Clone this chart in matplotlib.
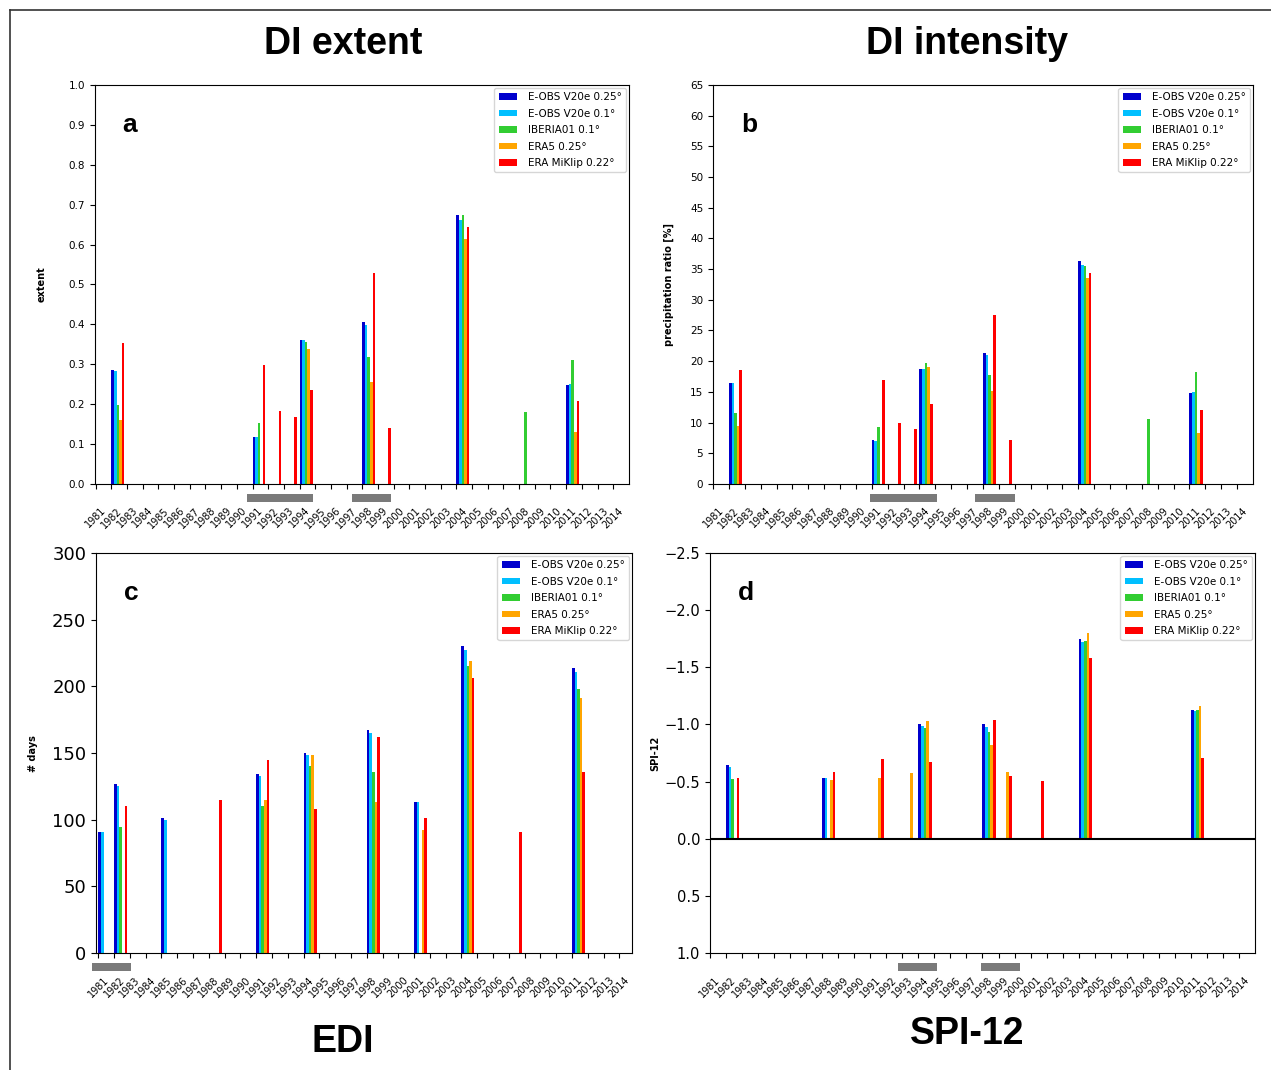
import matplotlib
matplotlib.use("Agg")
import matplotlib.pyplot as plt
import matplotlib.transforms as mtransforms
from matplotlib.patches import Rectangle
from matplotlib.lines import Line2D
import numpy as np

nan = np.nan

labels = ["E-OBS V20e 0.25°", "E-OBS V20e 0.1°", "IBERIA01 0.1°",
          "ERA5 0.25°", "ERA MiKlip 0.22°"]
colors = ["#0000cd", "#00bfff", "#32cd32", "#ffa500", "#ff0000"]
all_years = np.arange(1981, 2015)

# panel a - DI extent
years_a = [1982, 1991, 1992, 1993, 1994, 1998, 1999, 2004, 2008, 2011]
eobs25_a = [0.285, 0.118, nan, nan, 0.362, 0.405, nan, 0.673, nan, 0.247]
eobs10_a = [0.283, 0.117, nan, nan, 0.360, 0.398, nan, 0.662, nan, 0.250]
iberia_a = [0.197, 0.153, nan, nan, 0.357, 0.317, nan, 0.675, 0.180, 0.310]
era5_a = [0.160, nan, nan, nan, 0.337, 0.255, nan, 0.615, nan, 0.130]
miklip_a = [0.353, 0.298, 0.182, 0.168, 0.236, 0.528, 0.141, 0.643, nan, 0.208]

# panel b - DI intensity
years_b = years_a
eobs25_b = [16.5, 7.1, nan, nan, 18.7, 21.3, nan, 36.3, nan, 14.8]
eobs10_b = [16.4, 7.0, nan, nan, 18.7, 21.0, nan, 35.7, nan, 14.9]
iberia_b = [11.5, 9.2, nan, nan, 19.7, 17.8, nan, 35.5, 10.6, 18.3]
era5_b = [9.5, nan, nan, nan, 19.0, 15.2, nan, 33.5, nan, 8.3]
miklip_b = [18.6, 16.9, 10.0, 8.9, 13.0, 27.5, 7.1, 34.4, nan, 12.0]

# panel c - EDI days
years_c = [1981, 1982, 1985, 1988, 1991, 1994, 1998, 2001, 2004, 2007, 2011]
eobs25_c = [90.5, 126.5, 101, nan, 134.5, 150, 167, 113.5, 230.5, nan, 213.5]
eobs10_c = [91, 125, 100, nan, 132.5, 148.5, 165, 113, 227, nan, 210.5]
iberia_c = [nan, 94.5, nan, nan, 110, 140, 136, nan, 215, nan, 198]
era5_c = [nan, nan, nan, nan, 115, 148.5, 113, 92.5, 219, nan, 191]
miklip_c = [nan, 110, nan, 115, 144.5, 108, 162, 101.5, 206, 90.5, 136]

# panel d - SPI-12
years_d = [1982, 1988, 1991, 1993, 1994, 1998, 1999, 2001, 2004, 2011]
eobs25_d = [-0.645, -0.535, nan, nan, -1.0, -1.0, nan, nan, -1.75, -1.125]
eobs10_d = [-0.625, -0.535, nan, nan, -0.99, -0.98, nan, nan, -1.72, -1.12]
iberia_d = [-0.52, nan, nan, nan, -0.97, -0.93, nan, nan, -1.73, -1.13]
era5_d = [nan, -0.51, -0.535, -0.575, -1.03, -0.82, -0.585, nan, -1.80, -1.16]
miklip_d = [-0.53, -0.585, -0.70, nan, -0.675, -1.04, -0.545, -0.505, -1.58, -0.71]

# grey drought periods below the axes
periods_a = [(1990.65, 1994.85), (1997.35, 1999.8)]
periods_b = [(1990.9, 1995.1), (1997.5, 2000.0)]
periods_c = [(1980.6, 1983.1)]
periods_d = [(1992.7, 1995.15), (1997.9, 2000.35)]

step = 0.165

fig = plt.figure(figsize=(12.71, 10.70), dpi=100)


def panel(rect, years, series, periods, xlim, letter, ylabel, ylab_x,
          ytick_size):
    ax = fig.add_axes(rect)
    yrs = np.array(years, dtype=float)
    for i, (vals, c, lab) in enumerate(zip(series, colors, labels)):
        v = np.array(vals, dtype=float)
        ok = ~np.isnan(v)
        ax.bar(yrs[ok] + i * step, v[ok], width=step, align="edge",
               color=c, label=lab, linewidth=0)
    ax.set_xticks(all_years)
    ax.set_xticklabels([str(y) for y in all_years], rotation=45, fontsize=7)
    ax.tick_params(axis="x", pad=12)
    ax.tick_params(axis="y", labelsize=ytick_size)
    ax.set_xlim(*xlim)
    trans = mtransforms.blended_transform_factory(ax.transData, ax.transAxes)
    for x0, x1 in periods:
        ax.add_patch(Rectangle((x0, -0.046), x1 - x0, 0.021, transform=trans,
                               facecolor="#7a7a7a", edgecolor="none",
                               clip_on=False))
    ax.text(0.052, 0.9, letter, transform=ax.transAxes, fontsize=19,
            fontweight="bold", family="Liberation Sans", va="center")
    ax.set_ylabel(ylabel, fontsize=7, fontweight="bold")
    ax.yaxis.set_label_coords(ylab_x, 0.5)
    ax.legend(loc="upper right", fontsize=7.5, handlelength=1.8,
              handleheight=0.6, handletextpad=1.0, borderaxespad=0.3,
              labelspacing=0.62)
    return ax


ax_a = panel([0.0747, 0.5477, 0.4201, 0.3729], years_a,
             [eobs25_a, eobs10_a, iberia_a, era5_a, miklip_a], periods_a,
             (1980.95, 2015.0), "a", "extent", -0.09, 7.5)
ax_a.set_ylim(0, 1.0)
ax_a.set_yticks(np.arange(0, 1.01, 0.1))

ax_b = panel([0.561, 0.5477, 0.4248, 0.3729], years_b,
             [eobs25_b, eobs10_b, iberia_b, era5_b, miklip_b], periods_b,
             (1981.0, 2015.0), "b", "precipitation ratio [%]", -0.072, 7.5)
ax_b.set_ylim(0, 65)
ax_b.set_yticks(np.arange(0, 66, 5))

ax_c = panel([0.0755, 0.1093, 0.4217, 0.3738], years_c,
             [eobs25_c, eobs10_c, iberia_c, era5_c, miklip_c], periods_c,
             (1980.85, 2014.8), "c", "# days", -0.108, 13)
ax_c.set_ylim(0, 300)
ax_c.set_yticks(np.arange(0, 301, 50))

ax_d = panel([0.5586, 0.1093, 0.4288, 0.3738], years_d,
             [eobs25_d, eobs10_d, iberia_d, era5_d, miklip_d], periods_d,
             (1981.0, 2015.0), "d", "SPI-12", -0.092, 10.5)
ax_d.set_ylim(1.0, -2.5)
ax_d.set_yticks([-2.5, -2.0, -1.5, -1.0, -0.5, 0.0, 0.5, 1.0])
ax_d.axhline(0, color="black", linewidth=1.5)

# big titles
tkw = dict(fontsize=27, fontweight="bold", family="Liberation Sans",
           ha="center", va="center")
fig.text(0.270, 0.959, "DI extent", **tkw)
fig.text(0.761, 0.959, "DI intensity", **tkw)
fig.text(0.270, 0.026, "EDI", **tkw)
fig.text(0.761, 0.034, "SPI-12", **tkw)

# frame lines left and top
fig.add_artist(Line2D([10 / 1271, 10 / 1271], [0, 1 - 10 / 1070],
                      transform=fig.transFigure, color="#333333", lw=1.2))
fig.add_artist(Line2D([10 / 1271, 1], [1 - 10 / 1070, 1 - 10 / 1070],
                      transform=fig.transFigure, color="#333333", lw=1.2))

fig.savefig("out.png", dpi=100)
